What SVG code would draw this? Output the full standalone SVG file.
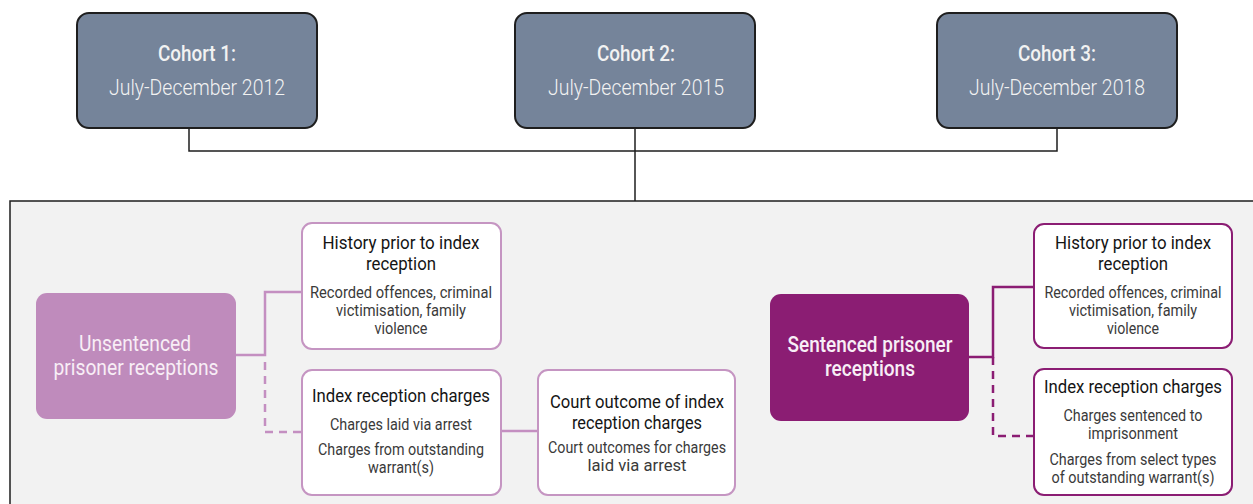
<svg xmlns="http://www.w3.org/2000/svg" width="1253" height="504" viewBox="0 0 1253 504">
<defs>
<style>
.cohort rect{fill:#75849a;stroke:#1e1e1e;stroke-width:2}
.ct{font-family:Roboto,"Liberation Sans",sans-serif;fill:#f2f2f2;text-anchor:middle}
.ct1{font-size:22px;font-weight:500}
.ct2{font-size:21.5px;font-weight:300}
.wl rect{fill:#ffffff;stroke:#c595c2;stroke-width:2}
.wr rect{fill:#ffffff;stroke:#8b1d73;stroke-width:2}
.h{font-family:Roboto,"Liberation Sans",sans-serif;font-size:19px;fill:#141414;text-anchor:middle}
.b{font-family:Roboto,"Liberation Sans",sans-serif;font-size:16px;fill:#3a3a3a;text-anchor:middle}
.big{font-family:Roboto,"Liberation Sans",sans-serif;font-size:22px;fill:#f8eef6;text-anchor:middle}
.blk{fill:none;stroke:#1e1e1e;stroke-width:1.5}
.lp{fill:none;stroke:#c48fc1;stroke-width:2.5}
.dp{fill:none;stroke:#8b1d73;stroke-width:2.5}
.dash{stroke-dasharray:8 6}
</style>
</defs>
<rect id="container" x="10" y="201" width="1260" height="320" fill="#f2f2f2" stroke="#1e1e1e" stroke-width="1.5"/>
<g id="connectors">
<path class="blk" d="M189,128 V151 H1057 V128"/>
<path class="blk" d="M635,128 V201"/>
<path class="lp" d="M236,355 H265 V292 H302"/>
<path class="lp dash" d="M265,362 V432 H302"/>
<path class="lp" d="M501,431 H538"/>
<path class="dp" d="M969,357 H993 V287 H1034"/>
<path class="dp dash" d="M993,357 V436 H1034"/>
</g>
<g id="cohort1" class="cohort">
<rect x="77" y="13" width="240" height="115" rx="12"/>
<text class="ct ct1" x="197" y="61" textLength="78" lengthAdjust="spacingAndGlyphs">Cohort 1:</text>
<text class="ct ct2" x="197" y="95" textLength="176" lengthAdjust="spacingAndGlyphs">July-December 2012</text>
</g>
<g id="cohort2" class="cohort">
<rect x="515" y="13" width="240" height="115" rx="12"/>
<text class="ct ct1" x="636" y="61" textLength="78" lengthAdjust="spacingAndGlyphs">Cohort 2:</text>
<text class="ct ct2" x="636" y="95" textLength="176" lengthAdjust="spacingAndGlyphs">July-December 2015</text>
</g>
<g id="cohort3" class="cohort">
<rect x="937" y="13" width="240" height="115" rx="12"/>
<text class="ct ct1" x="1057" y="61" textLength="78" lengthAdjust="spacingAndGlyphs">Cohort 3:</text>
<text class="ct ct2" x="1057" y="95" textLength="176" lengthAdjust="spacingAndGlyphs">July-December 2018</text>
</g>
<g id="unsentenced">
<rect x="36" y="293" width="200" height="126" rx="11" fill="#bf8bbc"/>
<text class="big" x="135" y="351" textLength="112" lengthAdjust="spacingAndGlyphs">Unsentenced</text>
<text class="big" x="136" y="375" textLength="165" lengthAdjust="spacingAndGlyphs">prisoner receptions</text>
</g>
<g id="history-left" class="wl">
<rect x="302" y="223" width="199" height="126" rx="10"/>
<text class="h" x="401" y="249" textLength="157" lengthAdjust="spacingAndGlyphs">History prior to index</text>
<text class="h" x="401" y="270" textLength="70" lengthAdjust="spacingAndGlyphs">reception</text>
<text class="b" x="401" y="298" textLength="182" lengthAdjust="spacingAndGlyphs">Recorded offences, criminal</text>
<text class="b" x="401" y="316" textLength="130" lengthAdjust="spacingAndGlyphs">victimisation, family</text>
<text class="b" x="401" y="334" textLength="53" lengthAdjust="spacingAndGlyphs">violence</text>
</g>
<g id="index-left" class="wl">
<rect x="302" y="370" width="199" height="125" rx="10"/>
<text class="h" x="401" y="402" textLength="178" lengthAdjust="spacingAndGlyphs">Index reception charges</text>
<text class="b" x="401" y="430" textLength="142" lengthAdjust="spacingAndGlyphs">Charges laid via arrest</text>
<text class="b" x="401" y="455" textLength="166" lengthAdjust="spacingAndGlyphs">Charges from outstanding</text>
<text class="b" x="401" y="473" textLength="66" lengthAdjust="spacingAndGlyphs">warrant(s)</text>
</g>
<g id="court" class="wl">
<rect x="538" y="370" width="197" height="125" rx="10"/>
<text class="h" x="637" y="408" textLength="174" lengthAdjust="spacingAndGlyphs">Court outcome of index</text>
<text class="h" x="637" y="429" textLength="130" lengthAdjust="spacingAndGlyphs">reception charges</text>
<text class="b" x="637" y="453" textLength="178" lengthAdjust="spacingAndGlyphs">Court outcomes for charges</text>
<text class="b" x="637" y="471" textLength="99" lengthAdjust="spacingAndGlyphs">laid via arrest</text>
</g>
<g id="sentenced">
<rect x="770" y="294" width="199" height="127" rx="11" fill="#8b1d73"/>
<text class="big" x="870" y="352" font-weight="500" textLength="165" lengthAdjust="spacingAndGlyphs">Sentenced prisoner</text>
<text class="big" x="870" y="376" font-weight="500" textLength="90" lengthAdjust="spacingAndGlyphs">receptions</text>
</g>
<g id="history-right" class="wr">
<rect x="1034" y="224" width="198" height="124" rx="10"/>
<text class="h" x="1133" y="249" textLength="156" lengthAdjust="spacingAndGlyphs">History prior to index</text>
<text class="h" x="1133" y="270" textLength="70" lengthAdjust="spacingAndGlyphs">reception</text>
<text class="b" x="1133" y="298" textLength="177" lengthAdjust="spacingAndGlyphs">Recorded offences, criminal</text>
<text class="b" x="1133" y="316" textLength="128" lengthAdjust="spacingAndGlyphs">victimisation, family</text>
<text class="b" x="1133" y="334" textLength="52" lengthAdjust="spacingAndGlyphs">violence</text>
</g>
<g id="index-right" class="wr">
<rect x="1034" y="369" width="198" height="126" rx="10"/>
<text class="h" x="1133" y="393" textLength="178" lengthAdjust="spacingAndGlyphs">Index reception charges</text>
<text class="b" x="1133" y="421" textLength="139" lengthAdjust="spacingAndGlyphs">Charges sentenced to</text>
<text class="b" x="1133" y="439" textLength="90" lengthAdjust="spacingAndGlyphs">imprisonment</text>
<text class="b" x="1133" y="465" textLength="167" lengthAdjust="spacingAndGlyphs">Charges from select types</text>
<text class="b" x="1133" y="483" textLength="163" lengthAdjust="spacingAndGlyphs">of outstanding warrant(s)</text>
</g>
</svg>
